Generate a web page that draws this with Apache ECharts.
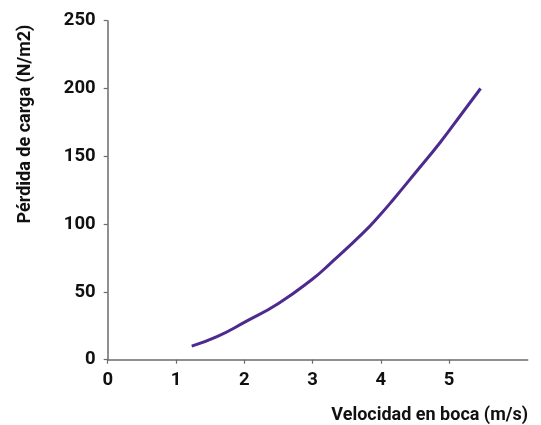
<!DOCTYPE html>
<html>
<head>
<meta charset="utf-8">
<script src="https://cdn.jsdelivr.net/npm/echarts@6/dist/echarts.min.js"></script>
<style>html,body{margin:0;padding:0;background:#fff;}#c{width:541px;height:425px;}</style>
</head>
<body>
<div id="c"></div>
<script>
var velocity = [1.23, 1.6, 2.0, 2.5, 3.0, 3.25, 3.74, 4.0, 4.18, 4.5, 4.865, 5.2, 5.46];
var headLoss = [10, 17, 27.5, 41.5, 59.5, 70.5, 93.5, 107.5, 118, 137.5, 160, 182.5, 200];
var xTicks = [0, 1, 2, 3, 4, 5];
var xAxisName = 'Velocidad en boca (m/s)';
var yAxisName = 'Pérdida de carga (N/m2)';

var chart = echarts.init(document.getElementById('c'), null, {renderer: 'canvas'});
var font = 'Roboto';
chart.setOption({
  animation: false,
  backgroundColor: '#fff',
  grid: {left: 107.7, right: 13.3, top: 20.7, bottom: 65.3, containLabel: false},
  xAxis: {
    type: 'value', min: 0, max: 6.15,
    axisLine: {lineStyle: {color: '#6b6b6b', width: 1.5}},
    axisTick: {show: true, length: 4, customValues: xTicks, lineStyle: {color: '#6b6b6b', width: 1.2}},
    axisLabel: {customValues: xTicks, margin: 11, color: '#111', fontSize: 18.5, fontWeight: 'bold', fontFamily: font},
    splitLine: {show: false}
  },
  yAxis: {
    type: 'value', min: 0, max: 250, interval: 50,
    axisLine: {show: true, lineStyle: {color: '#6b6b6b', width: 1.5}},
    axisTick: {show: true, length: 4, lineStyle: {color: '#6b6b6b', width: 1.2}},
    axisLabel: {margin: 12, color: '#111', fontSize: 18.5, fontWeight: 'bold', fontFamily: font},
    splitLine: {show: false}
  },
  series: [{
    type: 'line',
    data: velocity.map(function(v, i){ return [v, headLoss[i]]; }),
    smooth: 0.5,
    showSymbol: false,
    lineStyle: {color: '#4c2a8e', width: 3},
    itemStyle: {color: '#4c2a8e'}
  }],
  graphic: [
    {type: 'text', right: 13, top: 406, style: {text: xAxisName, fill: '#111', font: 'bold 18px ' + font}},
    {type: 'text', x: 25, y: 124, rotation: Math.PI / 2,
     style: {text: yAxisName, fill: '#111', font: 'bold 18px ' + font, align: 'center', verticalAlign: 'middle'}}
  ]
});
</script>
</body>
</html>
